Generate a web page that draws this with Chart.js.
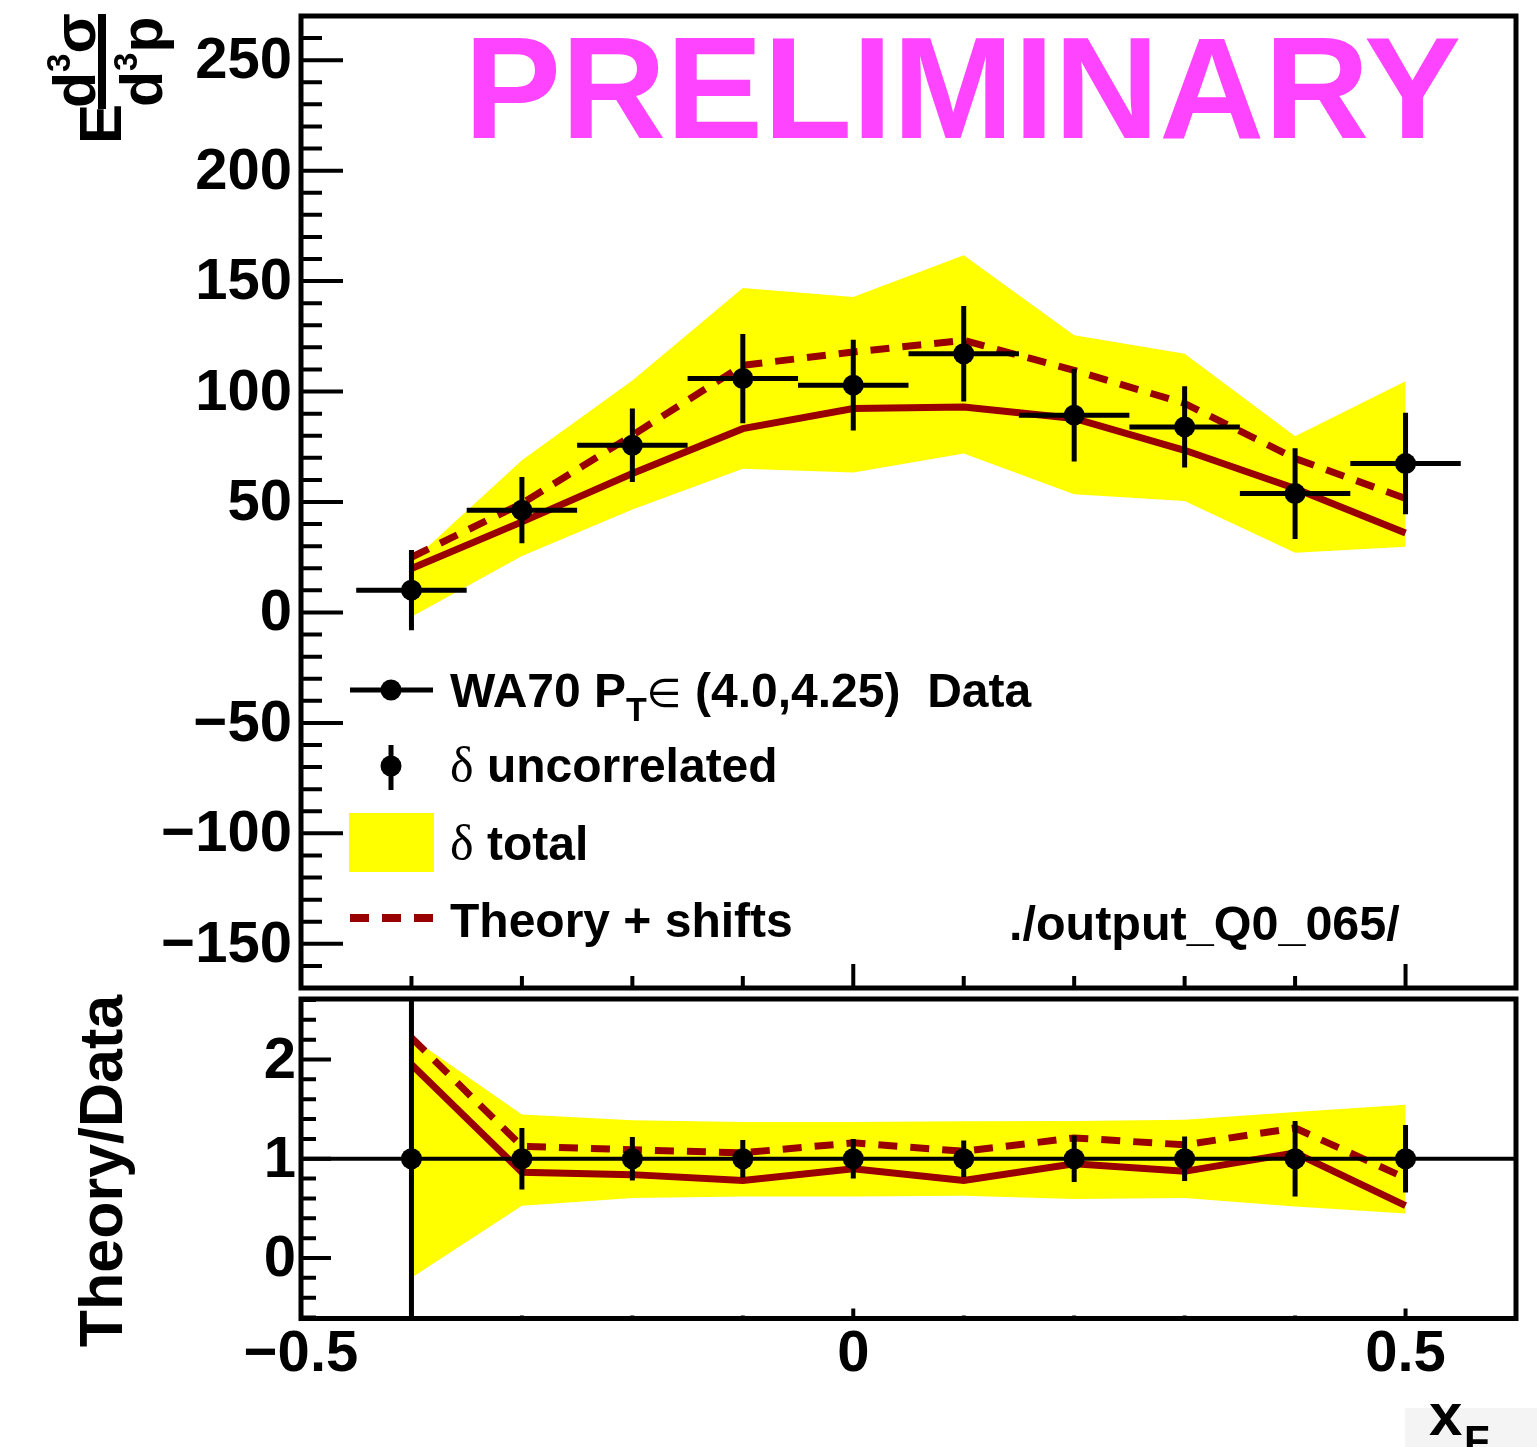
<!DOCTYPE html>
<html><head><meta charset="utf-8">
<script src="https://cdn.jsdelivr.net/npm/chart.js@4.4.1/dist/chart.umd.min.js"></script>
<style>
html,body{margin:0;padding:0;background:#fff;}
#wrap{position:relative;width:1537px;height:1447px;overflow:hidden;background:#fff;}
#top{position:absolute;left:0;top:0;width:1537px;height:994px;}
#bot{position:absolute;left:0;top:994px;width:1537px;height:453px;}
</style></head><body>
<div id="wrap">
<canvas id="top" width="1537" height="994"></canvas>
<canvas id="bot" width="1537" height="453"></canvas>
</div>
<script>
// ---------------- data ----------------
const xF = [-0.4, -0.3, -0.2, -0.1, 0.0, 0.1, 0.2, 0.3, 0.4, 0.5];
const xHalfWidth = [0.05, 0.05, 0.05, 0.05, 0.05, 0.05, 0.05, 0.05, 0.05, 0.05];
const dataY = [10.1, 46.3, 75.7, 105.9, 102.9, 117.1, 89.3, 84.0, 53.8, 67.4];
const dataErrUncorr = [18.2, 15.0, 16.6, 20.2, 20.5, 21.6, 21.0, 18.4, 20.5, 23.0];
const totalUpper = [23.0, 68.9, 105.0, 146.9, 142.8, 161.7, 125.5, 117.1, 79.8, 104.7];
const totalLower = [-2.0, 25.5, 46.6, 65.0, 63.3, 71.9, 53.5, 50.4, 27.0, 29.7];
const theory = [19.9, 41.0, 62.9, 83.2, 92.3, 93.0, 87.8, 73.4, 56.1, 36.0];
const theoryShifts = [25.0, 49.3, 80.2, 111.9, 117.9, 123.2, 109.6, 94.6, 69.7, 51.6];

const ratioData = [1, 1, 1, 1, 1, 1, 1, 1, 1, 1];
const ratioErrUncorr = [1.8, 0.31, 0.22, 0.19, 0.20, 0.185, 0.235, 0.225, 0.38, 0.34];
const ratioTotalUpper = [2.22, 1.445, 1.387, 1.37, 1.37, 1.377, 1.38, 1.394, 1.47, 1.545];
const ratioTotalLower = [-0.2, 0.527, 0.605, 0.62, 0.62, 0.628, 0.595, 0.605, 0.52, 0.447];
const ratioTheory = [1.95, 0.863, 0.84, 0.78, 0.90, 0.78, 0.95, 0.873, 1.06, 0.527];
const ratioTheoryShifts = [2.22, 1.125, 1.09, 1.06, 1.16, 1.075, 1.21, 1.14, 1.31, 0.806];

const xLabeledTicks = [-0.5, 0, 0.5];
const yTopLabeledTicks = [-150, -100, -50, 0, 50, 100, 150, 200, 250];
const yBotLabeledTicks = [0, 1, 2];

// ---------------- style ----------------
const FONT = "'Liberation Sans', Arial, Helvetica, sans-serif";
const RED = '#990000';
const YELLOW = '#ffff00';
const MAGENTA = '#ff44ff';
const B = (s) => `bold ${s}px ${FONT}`;

function rangeTicks(min, max, step) {
  const out = [];
  for (let k = Math.ceil(min / step - 1e-9); k * step <= max + 1e-9; k++) out.push({ value: +(k * step).toFixed(6) });
  return out;
}
function fmtNum(v, dec) {
  const r = Math.abs(v) < 1e-9 ? 0 : v;
  if (r === 0) return '0';
  return (r < 0 ? '\u2212' : '') + Math.abs(r).toFixed(dec);
}
const isIn = (arr, v) => arr.some(a => Math.abs(a - v) < 1e-6);
const pts = (ys) => xF.map((x, i) => ({ x, y: ys[i] }));

function txt(ctx, s, x, y, font, color, align) {
  ctx.font = font; ctx.fillStyle = color || '#000';
  ctx.textAlign = align || 'left'; ctx.textBaseline = 'alphabetic';
  ctx.fillText(s, x, y);
  return ctx.measureText(s).width;
}

function datasets(yPts, yShift, yTheory, yUp, yLo) {
  return [
    { data: pts(yPts), showLine: false, pointRadius: 10.5, pointHoverRadius: 10.5,
      pointBackgroundColor: '#000', pointBorderWidth: 0, borderColor: '#000' },
    { data: pts(yShift), borderColor: RED, borderWidth: 7, borderDash: [19, 13],
      pointRadius: 0, fill: false, tension: 0 },
    { data: pts(yTheory), borderColor: RED, borderWidth: 7, pointRadius: 0, fill: false, tension: 0 },
    { data: pts(yUp), borderColor: 'rgba(0,0,0,0)', borderWidth: 1, pointRadius: 0,
      fill: '+1', backgroundColor: YELLOW, tension: 0 },
    { data: pts(yLo), borderColor: 'rgba(0,0,0,0)', borderWidth: 1, pointRadius: 0, fill: false, tension: 0 }
  ];
}

function axesPlugin(cfg) {
  return {
    id: 'rootAxes',
    afterDraw(chart) {
      const { ctx, chartArea: a, scales: { x, y } } = chart;
      ctx.save();
      ctx.strokeStyle = '#000'; ctx.lineWidth = 4; ctx.lineCap = 'butt';
      ctx.beginPath();
      y.ticks.forEach(t => {
        const p = y.getPixelForValue(t.value);
        const L = isIn(cfg.yMajorList, t.value) ? cfg.yMajor : cfg.yMinor;
        ctx.moveTo(a.left, p); ctx.lineTo(a.left + L, p);
      });
      x.ticks.forEach(t => {
        const p = x.getPixelForValue(t.value);
        const L = isIn(xLabeledTicks, t.value) ? cfg.xMajor : cfg.xMinor;
        ctx.moveTo(p, a.bottom); ctx.lineTo(p, a.bottom - L);
      });
      ctx.stroke();
      ctx.lineWidth = 5;
      ctx.strokeRect(a.left, a.top, a.right - a.left, a.bottom - a.top);
      ctx.restore();
    }
  };
}

function errPlugin(yVals, yErr, withX, unity) {
  return {
    id: 'errBars',
    beforeDatasetDraw(chart, args) {
      if (args.index !== 0) return;
      const { ctx, chartArea: a, scales: { x, y } } = chart;
      ctx.save();
      ctx.beginPath(); ctx.rect(a.left, a.top, a.right - a.left, a.bottom - a.top); ctx.clip();
      ctx.strokeStyle = '#000'; ctx.lineCap = 'butt';
      if (unity) {
        ctx.lineWidth = 4; ctx.beginPath();
        const p1 = y.getPixelForValue(1);
        ctx.moveTo(a.left, p1); ctx.lineTo(a.right, p1); ctx.stroke();
      }
      ctx.lineWidth = 5; ctx.beginPath();
      xF.forEach((xv, i) => {
        const px = x.getPixelForValue(xv), py = y.getPixelForValue(yVals[i]);
        ctx.moveTo(px, y.getPixelForValue(yVals[i] + yErr[i]));
        ctx.lineTo(px, y.getPixelForValue(yVals[i] - yErr[i]));
        if (withX) {
          ctx.moveTo(x.getPixelForValue(xv - xHalfWidth[i]), py);
          ctx.lineTo(x.getPixelForValue(xv + xHalfWidth[i]), py);
        }
      });
      ctx.stroke();
      ctx.restore();
    }
  };
}

const topTexts = {
  id: 'topTexts',
  afterDraw(chart) {
    const ctx = chart.ctx;
    ctx.save();
    // PRELIMINARY
    txt(ctx, 'PRELIMINARY', 464, 138, B(145.5), MAGENTA);
    // Legend
    ctx.strokeStyle = '#000'; ctx.lineWidth = 5;
    ctx.beginPath(); ctx.moveTo(350, 690); ctx.lineTo(433, 690); ctx.stroke();
    ctx.fillStyle = '#000';
    ctx.beginPath(); ctx.arc(391, 690, 10.5, 0, Math.PI * 2); ctx.fill();
    let cx = 450;
    cx += txt(ctx, 'WA70 P', cx, 707, B(48));
    cx += txt(ctx, 'T', cx, 721, B(34));
    cx += txt(ctx, '\u2208', cx, 707, "40px 'DejaVu Sans'");
    cx += txt(ctx, ' (4.0,4.25)  Data', cx, 707, B(48));

    ctx.beginPath(); ctx.moveTo(391, 745); ctx.lineTo(391, 790); ctx.stroke();
    ctx.beginPath(); ctx.arc(391, 766, 10.5, 0, Math.PI * 2); ctx.fill();
    cx = 450;
    cx += txt(ctx, '\u03b4', cx, 782, "50px 'Liberation Serif', serif");
    txt(ctx, ' uncorrelated', cx, 782, B(48));

    ctx.fillStyle = YELLOW; ctx.fillRect(349, 813, 85, 59);
    cx = 450;
    cx += txt(ctx, '\u03b4', cx, 860, "50px 'Liberation Serif', serif");
    txt(ctx, ' total', cx, 860, B(48));

    ctx.strokeStyle = RED; ctx.lineWidth = 8; ctx.setLineDash([19, 13]);
    ctx.beginPath(); ctx.moveTo(350, 918); ctx.lineTo(434, 918); ctx.stroke();
    ctx.setLineDash([]);
    txt(ctx, 'Theory + shifts', 450, 937, B(48));

    txt(ctx, './output_Q0_065/', 1009, 940, B(48.5));

    // Y title: E d3sigma / d3p (rotated)
    ctx.rotate(-Math.PI / 2);
    ctx.fillStyle = '#000';
    txt(ctx, 'E', -144, 121, B(60));
    ctx.fillRect(-109, 98, 95, 8);
    let u = -108;
    u += txt(ctx, 'd', u, 95, B(59));
    u += txt(ctx, '3', u, 70, B(33));
    txt(ctx, '\u03c3', u, 95, B(59));
    u = -107;
    u += txt(ctx, 'd', u, 162, B(59));
    u += txt(ctx, '3', u, 137, B(33));
    txt(ctx, 'p', u, 162, B(59));
    ctx.restore();
  }
};

const botTexts = {
  id: 'botTexts',
  afterDraw(chart) {
    const ctx = chart.ctx;
    ctx.save();
    ctx.fillStyle = '#f4f4f4'; ctx.fillRect(1405, 1408 - 994, 132, 60);
    txt(ctx, 'x', 1429, 1435 - 994, B(60));
    txt(ctx, 'F', 1464, 1455 - 994, B(42));
    ctx.rotate(-Math.PI / 2);
    txt(ctx, 'Theory/Data', -(1171 - 994), 122, B(61), '#000', 'center');
    ctx.restore();
  }
};

function yScale(min, max, step, labeled, pad, fmtDec) {
  return {
    type: 'linear', min, max,
    afterBuildTicks: s => { s.ticks = rangeTicks(min, max, step); },
    ticks: {
      autoSkip: false, padding: pad, color: '#000', labelOffset: 2,
      font: { family: FONT, size: 58, weight: 'bold', lineHeight: 1.2 },
      callback: v => isIn(labeled, v) ? fmtNum(v, fmtDec) : ''
    },
    grid: { display: false, drawTicks: false }, border: { display: false },
    afterFit: s => { s.width = 301; s.paddingTop = 0; s.paddingBottom = 0; }
  };
}
function xScale(showLabels, height) {
  return {
    type: 'linear', min: -0.5, max: 0.6,
    afterBuildTicks: s => { s.ticks = rangeTicks(-0.5, 0.6, 0.1); },
    ticks: {
      display: showLabels, autoSkip: false, maxRotation: 0, minRotation: 0, padding: 2, color: '#000',
      font: { family: FONT, size: 58, weight: 'bold', lineHeight: 1.2 },
      callback: v => isIn(xLabeledTicks, v) ? fmtNum(v, 1) : ''
    },
    grid: { display: false, drawTicks: false }, border: { display: false },
    afterFit: s => { s.height = height; s.paddingLeft = 0; s.paddingRight = 0; }
  };
}
const common = {
  responsive: false, animation: false, devicePixelRatio: 1, events: [],
  plugins: { legend: { display: false }, tooltip: { enabled: false } }
};

new Chart(document.getElementById('top'), {
  type: 'line',
  data: { datasets: datasets(dataY, theoryShifts, theory, totalUpper, totalLower) },
  options: Object.assign({}, common, {
    layout: { autoPadding: false, padding: { left: 0, right: 21, top: 16, bottom: 0 } },
    scales: { x: xScale(false, 6), y: yScale(-170, 270, 10, yTopLabeledTicks, 9, 0) }
  }),
  plugins: [errPlugin(dataY, dataErrUncorr, true, false), axesPlugin({ yMajorList: yTopLabeledTicks, yMajor: 42, yMinor: 21, xMajor: 24, xMinor: 12 }), topTexts]
});

new Chart(document.getElementById('bot'), {
  type: 'line',
  data: { datasets: datasets(ratioData, ratioTheoryShifts, ratioTheory, ratioTotalUpper, ratioTotalLower) },
  options: Object.assign({}, common, {
    layout: { autoPadding: false, padding: { left: 0, right: 21, top: 5, bottom: 0 } },
    scales: { x: xScale(true, 128.5), y: yScale(-0.61, 2.61, 0.2, yBotLabeledTicks, 5, 0) }
  }),
  plugins: [errPlugin(ratioData, ratioErrUncorr, false, true), axesPlugin({ yMajorList: yBotLabeledTicks, yMajor: 30, yMinor: 15, xMajor: 10, xMinor: 3 }), botTexts]
});
</script>
</body></html>
